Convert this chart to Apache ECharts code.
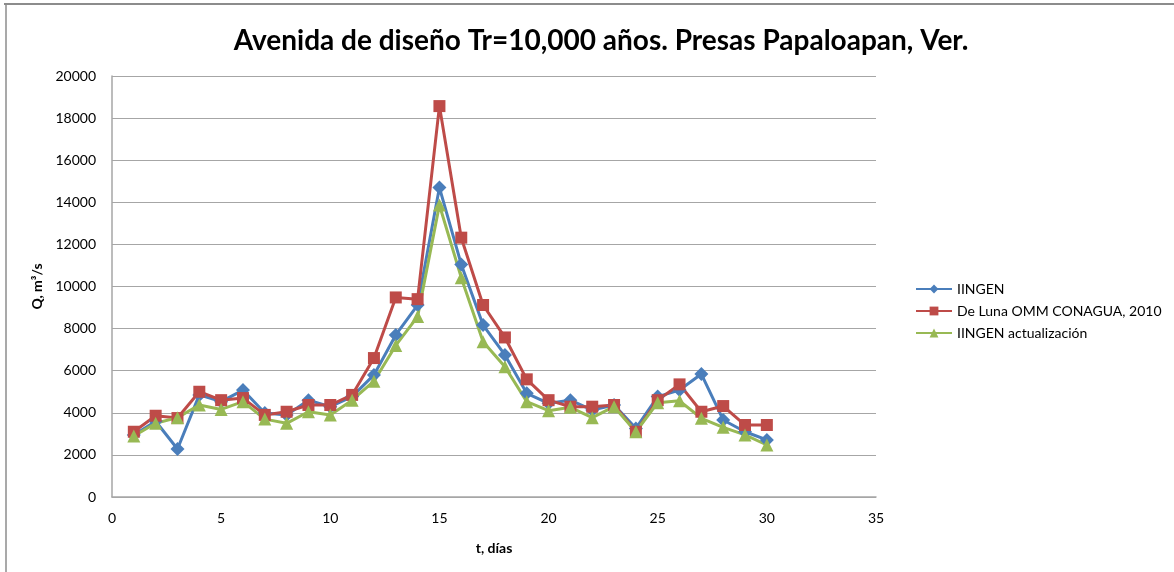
<!DOCTYPE html>
<html>
<head>
<meta charset="utf-8">
<script src="https://cdn.jsdelivr.net/npm/echarts@6/dist/echarts.min.js"></script>
<style>
  html, body { margin: 0; padding: 0; background: #fff; }
  #chart { width: 1174px; height: 572px; }
</style>
</head>
<body>
<div id="chart"></div>
<script>
const days = [1, 2, 3, 4, 5, 6, 7, 8, 9, 10, 11, 12, 13, 14, 15, 16, 17, 18, 19, 20, 21, 22, 23, 24, 25, 26, 27, 28, 29, 30];
const iingen = [2950, 3600, 2280, 4850, 4530, 5080, 3990, 3900, 4600, 4290, 4770, 5800, 7700, 9120, 14700, 11050, 8170, 6750, 4925, 4450, 4600, 4130, 4370, 3260, 4770, 5080, 5840, 3660, 3100, 2710];
const deLuna = [3100, 3860, 3750, 5000, 4600, 4700, 3900, 4050, 4370, 4370, 4850, 6600, 9480, 9400, 18570, 12320, 9120, 7580, 5590, 4600, 4290, 4290, 4370, 3100, 4600, 5350, 4050, 4320, 3420, 3420];
const actualizacion = [2900, 3500, 3770, 4370, 4160, 4530, 3700, 3500, 4050, 3900, 4600, 5500, 7200, 8570, 13870, 10420, 7380, 6190, 4530, 4100, 4260, 3770, 4290, 3100, 4480, 4570, 3740, 3310, 2950, 2470];

const seriesNames = ['IINGEN', 'De Luna OMM CONAGUA, 2010', 'IINGEN actualización'];
const font = 'Lato, "Open Sans", sans-serif';

const chart = echarts.init(document.getElementById('chart'));

function pairs(values) {
  return days.map((d, i) => [d, values[i]]);
}

chart.setOption({
  animation: false,
  backgroundColor: '#fff',
  textStyle: { fontFamily: font },
  title: {
    text: 'Avenida de diseño Tr=10,000 años. Presas Papaloapan, Ver.',
    left: 596,
    textAlign: 'center',
    top: 22,
    textStyle: { fontFamily: font, fontSize: 28, fontWeight: 'bold', color: '#000' },
  },
  graphic: [
    { type: 'line', shape: { x1: 4, y1: 4, x2: 1174, y2: 4 }, style: { stroke: '#8c8c8c', lineWidth: 2 } },
    { type: 'line', shape: { x1: 6, y1: 4, x2: 6, y2: 572 }, style: { stroke: '#8c8c8c', lineWidth: 1.5 } },
  ],
  legend: {
    orient: 'vertical',
    left: 910,
    top: 277,
    itemWidth: 36,
    itemHeight: 11,
    itemGap: 8,
    textStyle: { fontFamily: font, fontSize: 14, color: '#000' },
    data: seriesNames,
  },
  grid: { left: 112, right: 298, top: 76, bottom: 75 },
  xAxis: {
    type: 'value',
    min: 0,
    max: 35,
    interval: 5,
    name: 't, días',
    nameLocation: 'middle',
    nameGap: 44,
    nameTextStyle: { fontFamily: font, fontSize: 14, fontWeight: 'bold', color: '#000' },
    axisLine: { lineStyle: { color: '#a6a6a6', width: 1.5 } },
    axisTick: { show: false },
    axisLabel: { color: '#000', fontSize: 14, margin: 14 },
    splitLine: { show: false },
  },
  yAxis: {
    type: 'value',
    min: 0,
    max: 20000,
    interval: 2000,
    name: 'Q, m³/s',
    nameLocation: 'middle',
    nameGap: 68,
    nameTextStyle: { fontFamily: font, fontSize: 14, fontWeight: 'bold', color: '#000' },
    axisLine: { show: true, lineStyle: { color: '#a6a6a6', width: 1.5 } },
    axisTick: { show: false },
    axisLabel: { color: '#000', fontSize: 14, margin: 16, formatter: (v) => String(v) },
    splitLine: { lineStyle: { color: '#a6a6a6', width: 1 } },
  },
  series: [
    {
      name: seriesNames[0],
      type: 'line',
      data: pairs(iingen),
      symbol: 'diamond',
      symbolSize: 14,
      lineStyle: { color: '#4a7ebb', width: 3 },
      itemStyle: { color: '#4a7ebb' },
    },
    {
      name: seriesNames[1],
      type: 'line',
      data: pairs(deLuna),
      symbol: 'rect',
      symbolSize: 12,
      lineStyle: { color: '#be4b48', width: 3 },
      itemStyle: { color: '#be4b48' },
    },
    {
      name: seriesNames[2],
      type: 'line',
      data: pairs(actualizacion),
      symbol: 'triangle',
      symbolSize: 13,
      lineStyle: { color: '#98b954', width: 3 },
      itemStyle: { color: '#98b954' },
    },
  ],
});
</script>
</body>
</html>
